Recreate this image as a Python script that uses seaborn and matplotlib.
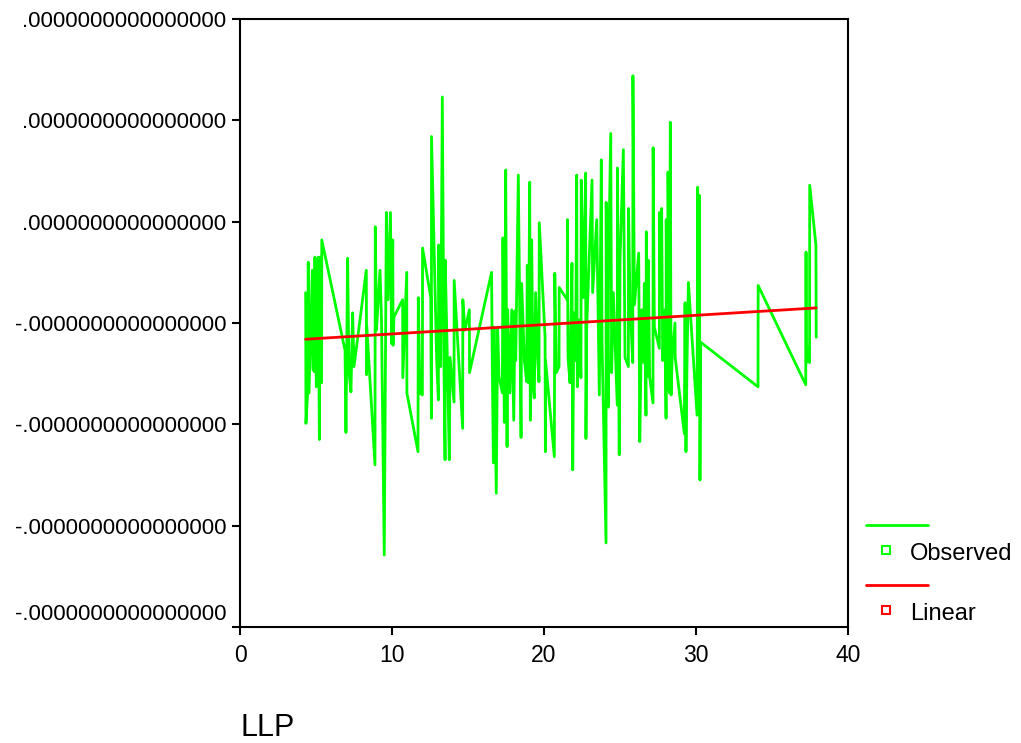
import numpy as np
import pandas as pd
import matplotlib
matplotlib.use("Agg")
import matplotlib.pyplot as plt
import matplotlib.transforms as mtransforms
from matplotlib.lines import Line2D
from matplotlib.ticker import FuncFormatter
import seaborn as sns

# LLP values (sorted) and the observed response, in units of 1e-17
llp = [
    4.32, 4.34, 4.45, 4.49, 4.54, 4.76, 4.80, 4.89, 4.93, 5.02,
    5.15, 5.22, 5.28, 5.37, 5.38, 6.91, 6.97, 7.08, 7.17, 7.30,
    7.41, 7.50, 8.31, 8.33, 8.34, 8.88, 8.90, 8.98, 9.21, 9.31,
    9.49, 9.63, 9.74, 9.90, 9.97, 10.05, 10.07, 10.13, 10.70, 10.71,
    10.97, 10.98, 11.71, 11.73, 11.84, 12.00, 12.01, 12.55, 12.59, 12.60,
    12.94, 13.05, 13.07, 13.20, 13.31, 13.42, 13.49, 13.50, 13.64, 13.77,
    13.82, 14.08, 14.09, 14.65, 14.66, 14.80, 15.09, 15.10, 16.55, 16.60,
    16.67, 16.71, 16.86, 16.95, 17.04, 17.26, 17.30, 17.39, 17.48, 17.57,
    17.61, 17.76, 17.88, 18.01, 18.09, 18.14, 18.31, 18.49, 18.53, 18.71,
    18.86, 18.90, 18.97, 19.06, 19.10, 19.19, 19.28, 19.36, 19.45, 19.59,
    19.67, 19.69, 20.07, 20.09, 20.10, 20.68, 20.71, 20.81, 20.99, 21.00,
    21.53, 21.54, 21.58, 21.71, 21.84, 21.89, 21.97, 22.08, 22.15, 22.19,
    22.32, 22.43, 22.45, 22.59, 22.74, 22.76, 22.81, 23.16, 23.20, 23.47,
    23.64, 23.77, 23.82, 24.08, 24.09, 24.23, 24.24, 24.39, 24.45, 24.56,
    24.82, 24.83, 24.95, 25.00, 25.22, 25.33, 25.55, 25.56, 25.66, 25.84,
    25.85, 25.95, 26.23, 26.30, 26.43, 26.56, 26.60, 26.71, 26.73, 26.82,
    26.86, 26.95, 27.17, 27.18, 27.26, 27.59, 27.60, 27.65, 27.74, 27.81,
    27.96, 28.03, 28.04, 28.14, 28.16, 28.25, 28.31, 28.36, 28.44, 28.62,
    28.63, 29.23, 29.28, 29.34, 29.41, 29.50, 30.07, 30.11, 30.15, 30.22,
    30.26, 30.31, 34.08, 34.09, 37.22, 37.24, 37.26, 37.43, 37.47, 37.48,
    37.89, 37.91,
]
observed = [
    -0.20, -1.49, -1.19, 0.10, -1.19, 0.02, -0.96, -0.98, 0.15, -1.13,
    0.15, -1.65, 0.15, -1.09, 0.32, -0.77, -1.58, 0.14, -0.98, -1.18,
    -0.40, -0.93, 0.02, -1.01, -0.53, -1.90, 0.45, -0.57, 0.02, -0.47,
    -2.79, 0.59, -0.27, 0.59, -0.70, 0.32, -0.72, -0.44, -0.27, -1.04,
    0.00, -1.19, -1.77, -0.25, -1.19, -1.21, 0.24, -0.25, -1.44, 1.34,
    -0.87, -1.26, 0.27, -0.93, 1.73, -0.93, -1.85, 0.12, -0.84, -1.85,
    -0.84, -1.28, -0.08, -1.54, -0.27, -0.57, -0.37, -0.99, 0.00, -0.93,
    -1.88, -0.54, -2.18, -0.54, -1.03, -1.19, 0.34, -1.48, 1.01, -1.72,
    -0.37, -1.19, -0.37, -1.46, -0.38, -0.87, 0.96, -1.63, -0.11, -0.87,
    -1.08, 0.07, -1.09, 0.89, -1.46, 0.32, -1.13, -1.24, -0.20, -0.87,
    -1.08, 0.49, -0.64, -1.77, -0.87, -1.82, -0.01, -0.99, -0.93, -0.15,
    -0.27, 0.52, -0.84, -1.09, 0.09, -1.95, -0.40, -0.87, 0.96, -1.13,
    -0.47, -1.04, 0.91, -0.25, 0.98, -1.64, -0.54, 0.91, -0.20, 0.52,
    -1.21, 1.11, -0.70, -2.67, 0.69, -1.33, 0.02, 1.37, -0.99, -0.20,
    -1.31, 1.03, -1.80, 0.12, 1.21, -0.84, -0.93, 0.63, -0.30, -0.89,
    1.94, -0.32, 0.19, -1.67, -0.37, -0.89, -0.11, -1.41, 0.40, -1.03,
    0.12, -1.03, -1.29, 1.23, -0.54, -0.75, 0.59, -0.06, 0.63, -0.87,
    -0.37, -1.44, 0.52, -1.16, 0.99, -1.19, 1.48, -1.21, -0.80, -0.50,
    -0.84, -1.59, -0.30, -1.77, -0.87, -0.10, -1.41, 0.84, -1.39, 0.76,
    -2.05, -0.69, -1.13, -0.13, -1.11, 0.20, -0.89, -0.74, -0.89, 0.86,
    0.27, -0.64,
]

# Linear model coefficients (same units as observed)
linear_intercept = -0.700
linear_slope = 0.0092

Y_UNIT = 1e-17
y_ticks = [-3.5, -2.5, -1.5, -0.5, 0.5, 1.5, 2.5]
x_ticks = [0, 10, 20, 30, 40]
legend_labels = ["Observed", "Linear"]
x_title = "LLP"

GREEN = "#00ff00"
RED = "#ff0000"
LW = 2.0

df = pd.DataFrame({"LLP": llp, "Observed": np.array(observed) * Y_UNIT})
df["Linear"] = (linear_intercept + linear_slope * df["LLP"]) * Y_UNIT

sns.set_theme(style="ticks")
plt.rcParams["font.family"] = ["Liberation Sans", "DejaVu Sans"]
plt.rcParams["text.color"] = "black"
plt.rcParams["axes.labelcolor"] = "black"
plt.rcParams["xtick.color"] = "black"
plt.rcParams["ytick.color"] = "black"

W, H = 1021, 743
fig = plt.figure(figsize=(W / 100, H / 100), dpi=100)
fig.patch.set_facecolor("white")
ax = fig.add_axes([240 / W, 1 - 627 / H, 608 / W, 608 / H])
ax.set_facecolor("white")

sns.lineplot(data=df, x="LLP", y="Observed", sort=False, estimator=None,
             color=GREEN, lw=LW, ax=ax)
sns.lineplot(data=df, x="LLP", y="Linear", sort=False, estimator=None,
             color=RED, lw=LW, ax=ax)

ax.set_xlim(x_ticks[0], x_ticks[-1])
ax.set_ylim(y_ticks[0] * Y_UNIT, y_ticks[-1] * Y_UNIT)
ax.set_xticks(x_ticks)
ax.set_yticks(np.array(y_ticks) * Y_UNIT)
ax.yaxis.set_major_formatter(
    FuncFormatter(lambda v, p: f"{v:.16f}".replace("0.", ".", 1)))
ax.xaxis.set_major_formatter(FuncFormatter(lambda v, p: f"{v:g}"))
ax.set_xlabel("")
ax.set_ylabel("")

for sp in ax.spines.values():
    sp.set_visible(True)
    sp.set_color("black")
    sp.set_linewidth(1.5)

ax.tick_params(axis="both", direction="out", length=6, width=1.5,
               color="black", labelcolor="black")
ax.tick_params(axis="y", labelsize=16, pad=4)
ax.tick_params(axis="x", labelsize=16.5, pad=6)

# lift the lowest y label clear of the x axis
fig.canvas.draw()
lowest = ax.get_yticklabels()[0]
lowest.set_transform(lowest.get_transform() +
                     mtransforms.ScaledTranslation(0, 15 / 100, fig.dpi_scale_trans))

fig.text(240 / W, 1 - 728 / H, x_title, fontsize=22, va="center", ha="left",
         color="black")

# legend: line sample above, square marker beside the label
def fx(px):
    return px / W

def fy(py):
    return 1 - py / H

for (line_y, mark_y, text_y), color, label in zip(
        [(525, 550, 554), (585, 610, 614)], [GREEN, RED], legend_labels):
    fig.add_artist(Line2D([fx(866), fx(928)], [fy(line_y)] * 2,
                          color=color, lw=LW))
    fig.add_artist(Line2D([fx(886)], [fy(mark_y)], marker="s", ms=6,
                          mfc="none", mec=color, mew=1.5, ls="none"))
    fig.text(fx(910), fy(text_y), label, fontsize=17, va="center", ha="left",
             color="black")

fig.savefig("out.png", dpi=100, facecolor="white")
